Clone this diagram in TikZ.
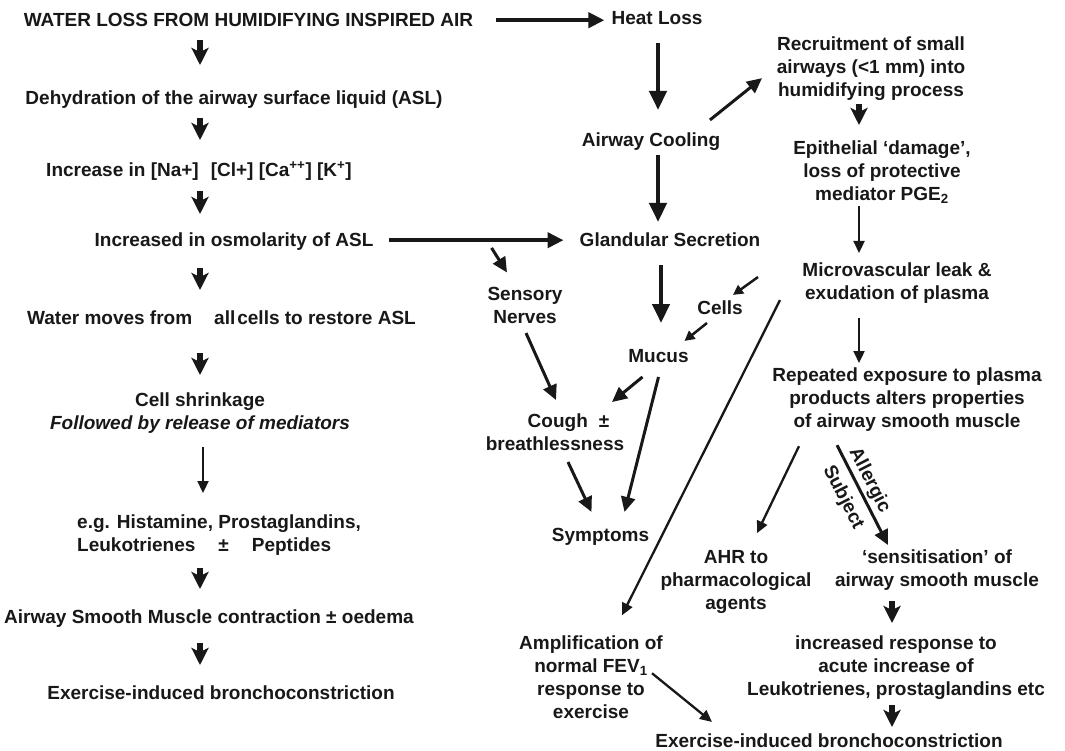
\documentclass[tikz,border=0pt]{standalone}
\usepackage{fontspec}
\setmainfont{Liberation Sans}
\usetikzlibrary{arrows.meta}
\newcommand\sst{\rule[-4pt]{0pt}{18pt}}
\definecolor{ink}{RGB}{24,24,24}
\begin{document}
\begin{tikzpicture}[x=1pt,y=-1pt,
  txt/.style={font=\fontsize{19pt}{23.2pt}\selectfont\bfseries, text=ink, inner sep=0pt, align=center, anchor=north},
  lab/.style={font=\fontsize{19pt}{23.2pt}\selectfont\bfseries, text=ink},
  fat/.style={draw=ink, line width=5.5pt, -{Stealth[length=17pt,width=17pt,inset=4pt]}},
  big/.style={draw=ink, line width=4.5pt, -{Triangle[length=19pt,width=17pt]}},
  hbig/.style={draw=ink, line width=4.5pt, -{Triangle[length=16pt,width=15pt]}},
  med/.style={draw=ink, line width=3pt, -{Triangle[length=15pt,width=14pt]}},
  small/.style={draw=ink, line width=2.5pt, -{Triangle[length=10pt,width=10pt]}},
  thin/.style={draw=ink, line width=2.3pt, -{Triangle[length=12pt,width=11pt]}}]
\fill[white] (0,0) rectangle (1065,751);
\useasboundingbox (0,0) rectangle (1065,751);
\coordinate (lx) at (200,0);
\coordinate (lx2) at (203,0);
\coordinate (mx) at (658,0);
\coordinate (mx2) at (661,0);
\coordinate (rx) at (859,0);
\coordinate (rx2) at (892,0);
% left column
\node[txt] (water) at (248.5,12) {\sst WATER LOSS FROM HUMIDIFYING INSPIRED AIR};
\node[txt] (dehyd) at (234,90) {\sst Dehydration of the airway surface liquid (ASL)};
\node[txt] (incr) at (199,162) {\sst Increase in [Na+]\hspace{12pt}[Cl+] [Ca\smash{\textsuperscript{++}}] [K\smash{\textsuperscript{+}}]};
\node[txt] (osmo) at (234,232) {\sst Increased in osmolarity of ASL};
\node[txt] (wmove) at (221.5,310) {\sst Water moves from\hspace{22pt}all\hspace{2pt}cells to restore ASL};
\node[txt] (shrink) at (200,392) {\sst Cell shrinkage\\\sst\itshape Followed by release of mediators};
\node[txt, anchor=north west, align=left] (eg) at (77,514) {\sst e.g. Histamine, Prostaglandins,\\\sst Leukotrienes\hspace{23pt}±\hspace{23pt}Peptides};
\node[txt] (asm) at (209,609) {\sst Airway Smooth Muscle contraction ± oedema};
\node[txt] (eib1) at (221,685) {\sst Exercise-induced bronchoconstriction};
% middle column
\node[txt] (heat) at (657,10) {\sst Heat Loss};
\node[txt] (cool) at (651,132) {\sst Airway Cooling};
\node[txt] (gland) at (670,232) {\sst Glandular Secretion};
\node[txt] (sens) at (525,286) {\sst Sensory\\\sst Nerves};
\node[txt] (cells) at (720,300) {\sst Cells};
\node[txt] (mucus) at (658.5,348) {\sst Mucus};
\node[txt] (cough) at (555,413) {\sst\hspace*{27pt}Cough\hspace{11pt}±\\\sst breathlessness};
\node[txt] (symp) at (600.5,527) {\sst Symptoms};
% right column
\node[txt] (recr) at (871,36) {\sst Recruitment of small\\\sst airways (<1 mm) into\\\sst humidifying process};
\node[txt] (epi) at (882,140) {\sst Epithelial ‘damage’,\\\sst loss of protective\\\sst mediator PGE\smash{\textsubscript{2}}};
\node[txt] (micro) at (897,262) {\sst Microvascular leak \&\\\sst exudation of plasma};
\node[txt] (rep) at (907,367) {\sst Repeated exposure to plasma\\\sst products alters properties\\\sst of airway smooth muscle};
\node[txt] (ahr) at (736,549) {\sst AHR to\\\sst pharmacological\\\sst agents};
\node[txt] (sensi) at (937,549) {\sst ‘sensitisation’ of\\\sst airway smooth muscle};
\node[txt] (incresp) at (896,635) {\sst increased response to\\\sst acute increase of\\\sst Leukotrienes, prostaglandins etc};
\node[txt] (ampl) at (591,635) {\sst Amplification of\\\sst normal FEV\smash{\textsubscript{1}}\\\sst response to\\\sst exercise};
\node[txt] (eib2) at (829,733) {\sst Exercise-induced bronchoconstriction};
% left column arrows
\draw[fat, shorten <=10pt, shorten >=25pt] (water.south -| lx) -- (dehyd.north -| lx);
\draw[fat, shorten <=10pt, shorten >=22pt] (dehyd.south -| lx) -- (incr.north -| lx);
\draw[fat, shorten <=11pt, shorten >=18pt] (incr.south -| lx) -- (osmo.north -| lx);
\draw[fat, shorten <=18pt, shorten >=20pt] (osmo.south -| lx) -- (wmove.north -| lx);
\draw[fat, shorten <=25pt, shorten >=17pt] (wmove.south -| lx) -- (shrink.north -| lx);
\draw[thin, shorten <=13pt, shorten >=21pt] (shrink.south -| lx2) -- (eg.north -| lx2);
\draw[fat, shorten <=12pt, shorten >=20pt] (eg.south -| lx) -- (asm.north -| lx);
\draw[fat, shorten <=16pt, shorten >=20pt] (asm.south -| lx) -- (eib1.north -| lx);
% middle arrows
\draw[hbig, shorten <=23pt, shorten >=7pt] ([yshift=1pt]water.east) -- ([yshift=1pt]water.east -| heat.west);
\draw[big, shorten <=15pt, shorten >=22pt] (heat.south -| mx) -- (cool.north -| mx);
\draw[big, shorten <=5pt, shorten >=10pt] (cool.south -| mx) -- (gland.north -| mx);
\draw[hbig, shorten <=15pt, shorten >=16pt] ([yshift=1pt]osmo.east) -- ([yshift=1pt]osmo.east -| gland.west);
\draw[big, shorten <=15pt, shorten >=25pt] (gland.south -| mx2) -- (mucus.north -| mx2);
\draw[med] ([shift={(59,-21.25)}]cool.center) -- ([shift={(-109,9.75)}]recr.center);
\draw[med] ([shift={(118,6.75)}]osmo.east) -- ([shift={(-18,-13.5)}]sens.north);
\draw[small] ([shift={(-139,-5.75)}]micro.center) -- ([shift={(13,-14.25)}]cells.center);
\draw[small] ([shift={(-13,13.75)}]cells.center) -- ([shift={(26,-16.25)}]mucus.center);
\draw[med] ([shift={(-16,19.75)}]mucus.center) -- ([shift={(57,-31.75)}]cough.center);
\draw[med] ([shift={(0,19.75)}]mucus.center) -- ([shift={(24,-24.25)}]symp.center);
\draw[med] ([shift={(1,26.25)}]sens.center) -- ([shift={(1,-33.75)}]cough.center);
\draw[med] ([shift={(13,28.25)}]cough.center) -- ([shift={(-9,-24.25)}]symp.center);
% right arrows
\draw[fat, shorten <=3pt, shorten >=15pt] (recr.south -| rx) -- (epi.north -| rx);
\draw[thin, shorten <=1pt, shorten >=9pt] (epi.south -| rx) -- (micro.north -| rx);
\draw[thin, shorten <=14pt, shorten >=4pt] (micro.south -| rx) -- (rep.north -| rx);
\draw[thin] ([shift={(-117,17.25)}]micro.center) -- ([shift={(31,-63.75)}]ampl.center);
\draw[thin] ([shift={(-108,46.75)}]rep.center) -- ([shift={(21,-48.25)}]ahr.center);
\draw[med] ([shift={(-70,45.75)}]rep.center) -- node[lab, pos=0.41, sloped, above, inner sep=2.5pt] {Allergic} node[lab, pos=0.44, sloped, below, inner sep=8pt] {Subject} ([shift={(-49,-24.75)}]sensi.center);
\draw[fat, shorten <=10pt, shorten >=12pt] (sensi.south -| rx2) -- (incresp.north -| rx2);
\draw[fat, shorten <=5pt, shorten >=6pt] (incresp.south -| rx2) -- (eib2.north -| rx2);
\draw[thin] ([shift={(61,-5.75)}]ampl.center) -- ([shift={(-117,-20.25)}]eib2.center);
\end{tikzpicture}
\end{document}
